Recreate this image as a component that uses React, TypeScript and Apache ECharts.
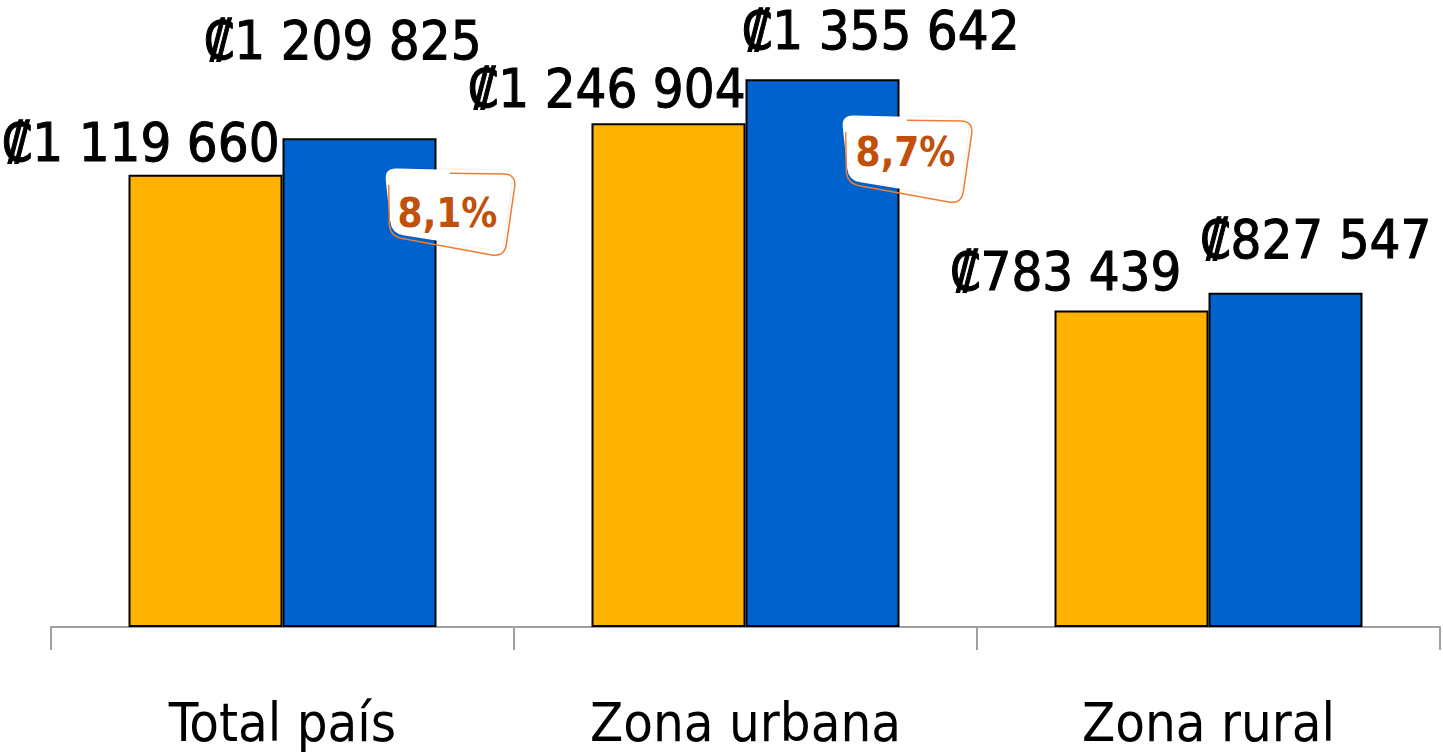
import React, { useEffect, useRef } from "react";
import * as echarts from "echarts";

const categories = ["Total país", "Zona urbana", "Zona rural"];
const seriesA = [1119660, 1246904, 783439];
const seriesB = [1209825, 1355642, 827547];
const pctLabels = ["8,1%", "8,7%", ""];

// label placement (style, not data)
const offsetsA: [number, number][] = [[-65, -5], [-62, -8], [-66, -12]];
const offsetsB: [number, number][] = [[-17, -71], [58, -22], [30, -26]];
const calloutShift: [number, number][] = [[0, 0], [-6, 6], [0, 0]];
const textShift: [number, number][] = [[11, 75], [6, 73], [0, 0]];

const FONT = "'DejaVu Sans Condensed', 'Liberation Sans Narrow', sans-serif";

type P = [number, number];
function unit(a: P, b: P, r: number): P {
  const dx = b[0] - a[0];
  const dy = b[1] - a[1];
  const l = Math.hypot(dx, dy);
  return [a[0] + (dx / l) * r, a[1] + (dy / l) * r];
}
function closedRounded(pts: P[], r: number) {
  const n = pts.length;
  let d = "";
  for (let i = 0; i <= n; i++) {
    const c = pts[i % n];
    const prev = pts[(i - 1 + n) % n];
    const next = pts[(i + 1) % n];
    const pin = unit(c, prev, r);
    const pout = unit(c, next, r);
    if (i === 0) d += `M${pout[0]} ${pout[1]}`;
    else d += `L${pin[0]} ${pin[1]}Q${c[0]} ${c[1]} ${pout[0]} ${pout[1]}`;
  }
  return d + "Z";
}
function openRounded(pts: P[], r: number) {
  const [TL, TR, BR, BL] = pts;
  const lerp = (a: P, b: P, t: number): P => [a[0] + (b[0] - a[0]) * t, a[1] + (b[1] - a[1]) * t];
  const start = lerp(TL, BL, 0.2);
  const end = lerp(TR, TL, 0.52);
  let d = `M${start[0]} ${start[1]}`;
  const corner = (c: P, prev: P, next: P) => {
    const pin = unit(c, prev, r);
    const pout = unit(c, next, r);
    d += `L${pin[0]} ${pin[1]}Q${c[0]} ${c[1]} ${pout[0]} ${pout[1]}`;
  };
  corner(BL, TL, BR);
  corner(BR, BL, TR);
  corner(TR, BR, TL);
  d += `L${end[0]} ${end[1]}`;
  return d;
}

const fillPts: P[] = [[-52, 30], [76, 33], [66, 113], [-45, 95]];
const strokePts: P[] = [[-48, 34], [80, 36], [68, 119], [-47, 98]];

let registered = false;
function registerShapes() {
  if (registered) return;
  registered = true;
  echarts.graphic.registerShape(
    "calloutFill",
    echarts.graphic.extendPath(closedRounded(fillPts, 12), {}) as any
  );
  echarts.graphic.registerShape(
    "calloutStroke",
    echarts.graphic.extendPath(openRounded(strokePts, 13), {}) as any
  );
}

const fmt = (v: number) => "₡" + String(v).replace(/\B(?=(\d{3})+(?!\d))/g, " ");

export default function App() {
  const ref = useRef<HTMLDivElement>(null);
  useEffect(() => {
    if (!ref.current) return;
    registerShapes();
    const chart = echarts.init(ref.current, undefined, { renderer: "svg" });
    const labelBase = {
      show: true,
      position: "top",
      distance: 0,
      fontSize: 54,
      fontFamily: FONT,
      color: "#000",
      textBorderColor: "#000",
      textBorderWidth: 1,
      formatter: (p: any) => fmt(p.value),
    };
    chart.setOption({
      animation: false,
      grid: { left: 51, right: 3, top: 21, bottom: 125 },
      xAxis: {
        type: "category",
        data: categories,
        axisLine: { show: true, lineStyle: { color: "#A0A0A0", width: 2 } },
        axisTick: { show: true, length: 23, lineStyle: { color: "#A0A0A0", width: 2 } },
        axisLabel: { fontSize: 54, fontFamily: FONT, color: "#000", margin: 68 },
      },
      yAxis: { type: "value", min: 0, max: 1500000, show: false, splitLine: { show: false } },
      series: [
        {
          type: "bar",
          barWidth: 154,
          barGap: "0%",
          itemStyle: { color: "#FFB300", borderColor: "#000", borderWidth: 2 },
          label: labelBase,
          data: seriesA.map((v, i) => ({ value: v, label: { offset: offsetsA[i] } })),
        },
        {
          type: "bar",
          barWidth: 154,
          barGap: "0%",
          itemStyle: { color: "#0062CC", borderColor: "#000", borderWidth: 2 },
          label: labelBase,
          data: seriesB.map((v, i) => ({ value: v, label: { offset: offsetsB[i] } })),
        },
      ],
    });
    const graphics: any[] = [];
    pctLabels.forEach((t, i) => {
      if (!t) return;
      const pt = chart.convertToPixel({ gridIndex: 0 }, [i, seriesB[i]]) as number[];
      const ax = pt[0] + 154;
      const ay = pt[1];
      graphics.push({
        type: "calloutFill",
        x: ax + calloutShift[i][0],
        y: ay + calloutShift[i][1],
        z: 100,
        style: { fill: "#ffffff", stroke: null, shadowBlur: 3, shadowColor: "rgba(0,0,0,0.15)" },
      });
      graphics.push({
        type: "calloutStroke",
        x: ax + calloutShift[i][0],
        y: ay + calloutShift[i][1],
        z: 101,
        style: { fill: null, stroke: "#ED7D31", lineWidth: 1.5 },
      });
      graphics.push({
        type: "text",
        x: ax + textShift[i][0],
        y: ay + textShift[i][1],
        z: 102,
        style: {
          text: t,
          fontSize: 40,
          fontWeight: "bold",
          fontFamily: FONT,
          fill: "#C0500A",
          align: "center",
          verticalAlign: "middle",
        },
      });
    });
    chart.setOption({ graphic: graphics });
    return () => chart.dispose();
  }, []);
  return (
    <div
      ref={ref}
      style={{ position: "fixed", left: 0, top: 0, width: 1443, height: 752, background: "#fff" }}
    />
  );
}
